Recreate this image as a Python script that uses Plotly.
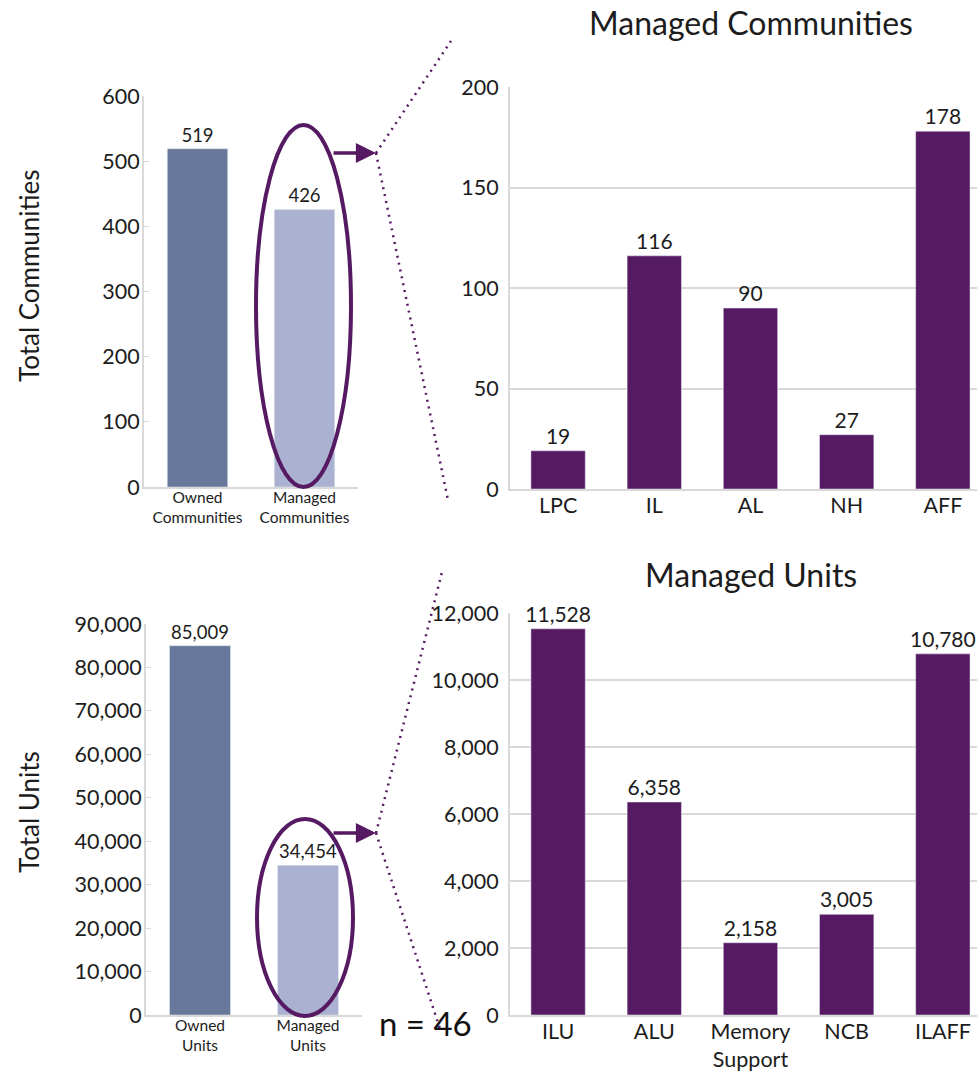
import plotly.graph_objects as go

# ---------------- data ----------------
overview_comm_cats = ["Owned<br>Communities", "Managed<br>Communities"]
overview_comm_vals = [519, 426]
overview_unit_cats = ["Owned<br>Units", "Managed<br>Units"]
overview_unit_vals = [85009, 34454]
comm_types = ["LPC", "IL", "AL", "NH", "AFF"]
comm_vals = [19, 116, 90, 27, 178]
unit_types = ["ILU", "ALU", "Memory<br>Support", "NCB", "ILAFF"]
unit_vals = [11528, 6358, 2158, 3005, 10780]

# ---------------- style ----------------
W, H = 977, 1072
FONT = "Lato"
OWNED = "#68789a"
MANAGED = "#abb1d0"
PURPLE = "#561a62"
GRID = "#d9d9d9"
TXT = "#1c1c1c"


def px(x):
    return x / W


def py(y):
    return 1 - y / H


fig = go.Figure()

bar_common = dict(textposition="outside", cliponaxis=False, constraintext="none",
                  hoverinfo="skip", showlegend=False)

fig.add_trace(go.Bar(x=overview_comm_cats, y=overview_comm_vals,
                     marker_color=[OWNED, MANAGED], texttemplate="%{y:,}",
                     textfont=dict(size=18.5, color=TXT, family=FONT),
                     xaxis="x", yaxis="y", **bar_common))
fig.add_trace(go.Bar(x=comm_types, y=comm_vals, marker_color=PURPLE,
                     texttemplate="%{y:,}",
                     textfont=dict(size=21, color=TXT, family=FONT),
                     xaxis="x2", yaxis="y2", **bar_common))
fig.add_trace(go.Bar(x=overview_unit_cats, y=overview_unit_vals,
                     marker_color=[OWNED, MANAGED], texttemplate="%{y:,}",
                     textfont=dict(size=18.5, color=TXT, family=FONT),
                     xaxis="x3", yaxis="y3", **bar_common))
fig.add_trace(go.Bar(x=unit_types, y=unit_vals, marker_color=PURPLE,
                     texttemplate="%{y:,}",
                     textfont=dict(size=21, color=TXT, family=FONT),
                     xaxis="x4", yaxis="y4", **bar_common))


def left_x(dom, anchor):
    return dict(domain=dom, anchor=anchor, showline=True, linecolor=GRID, linewidth=2,
                showgrid=False, ticks="", automargin=False, ticklabelstandoff=-5,
                tickfont=dict(size=15.5, color=TXT, family=FONT), fixedrange=True)


def left_y(dom, anchor, rng, dt):
    return dict(domain=dom, anchor=anchor, range=rng, dtick=dt, showline=True,
                linecolor=GRID, linewidth=2, showgrid=False, zeroline=False,
                ticks="inside", ticklen=5, tickcolor=GRID, tickwidth=1, automargin=False,
                ticklabelstandoff=-2,
                tickformat=",d", tickfont=dict(size=21.5, color=TXT, family=FONT))


def right_x(dom, anchor):
    return dict(domain=dom, anchor=anchor, range=[-0.5, 4.355], showline=True,
                linecolor=GRID, linewidth=2, showgrid=False, ticks="", automargin=False,
                ticklabelstandoff=-4,
                tickfont=dict(size=21.5, color=TXT, family=FONT))


def right_y(dom, anchor, rng, dt):
    return dict(domain=dom, anchor=anchor, range=rng, dtick=dt, showline=True,
                linecolor=GRID, linewidth=2, showgrid=True, gridcolor=GRID, gridwidth=1.5,
                zeroline=False, ticks="outside", ticklen=5, tickcolor="rgba(0,0,0,0)",
                automargin=False,
                tickformat=",d", tickfont=dict(size=21.5, color=TXT, family=FONT))


fig.update_layout(
    width=W, height=H,
    margin=dict(l=0, r=0, t=0, b=0, pad=0, autoexpand=False),
    paper_bgcolor="white", plot_bgcolor="white",
    font=dict(family=FONT, color=TXT),
    bargap=0.435,
    xaxis=left_x([px(144), px(358)], "y"),
    yaxis=left_y([py(487), py(96)], "x", [0, 600], 100),
    xaxis2=right_x([px(510), 1.0], "y2"),
    yaxis2=right_y([py(489), py(87)], "x2", [0, 200], 50),
    xaxis3=left_x([px(146), px(362)], "y3"),
    yaxis3=left_y([py(1015), py(624)], "x3", [0, 90000], 10000),
    xaxis4=right_x([px(510), 1.0], "y4"),
    yaxis4=right_y([py(1015), py(613)], "x4", [0, 12000], 2000),
)

shapes = []
# ellipses
shapes.append(dict(type="circle", xref="paper", yref="paper",
                   x0=px(256), x1=px(351), y0=py(487), y1=py(125),
                   line=dict(color=PURPLE, width=4)))
shapes.append(dict(type="circle", xref="paper", yref="paper",
                   x0=px(257), x1=px(353), y0=py(1016), y1=py(819),
                   line=dict(color=PURPLE, width=4)))
# dotted zoom lines
for (x0, y0, x1, y1) in [(376, 153, 451, 41), (376, 153, 448, 500),
                         (376, 833, 442, 572), (376, 833, 441, 1032)]:
    shapes.append(dict(type="line", xref="paper", yref="paper",
                       x0=px(x0), y0=py(y0), x1=px(x1), y1=py(y1),
                       line=dict(color=PURPLE, width=2.5, dash="2px,5px")))
fig.update_layout(shapes=shapes)

ann = []
for yy in (153, 833):
    ann.append(dict(x=px(376), y=py(yy), xref="paper", yref="paper", text="",
                    showarrow=True, ax=-44, ay=0, arrowhead=2, arrowsize=1.15,
                    arrowwidth=3.5, arrowcolor=PURPLE, standoff=0))
ann.append(dict(x=px(751), y=py(22), xref="paper", yref="paper",
                text="Managed Communities", showarrow=False,
                font=dict(size=32, color=TXT, family=FONT), xanchor="center", yanchor="middle"))
ann.append(dict(x=px(751), y=py(574), xref="paper", yref="paper",
                text="Managed Units", showarrow=False,
                font=dict(size=32, color=TXT, family=FONT), xanchor="center", yanchor="middle"))
ann.append(dict(x=px(29), y=py(276), xref="paper", yref="paper",
                text="Total Communities", textangle=-90, showarrow=False,
                font=dict(size=26, color=TXT, family=FONT), xanchor="center", yanchor="middle"))
ann.append(dict(x=px(29), y=py(812), xref="paper", yref="paper",
                text="Total Units", textangle=-90, showarrow=False,
                font=dict(size=26, color=TXT, family=FONT), xanchor="center", yanchor="middle"))
ann.append(dict(x=px(425), y=py(1023), xref="paper", yref="paper",
                text="n = 46", showarrow=False,
                font=dict(size=33, color="#111111", family=FONT), xanchor="center", yanchor="middle"))
fig.update_layout(annotations=ann)

fig.write_html("out.html", config={"displayModeBar": False},
               post_script="document.body.style.margin='0';document.body.style.overflow='hidden';")
